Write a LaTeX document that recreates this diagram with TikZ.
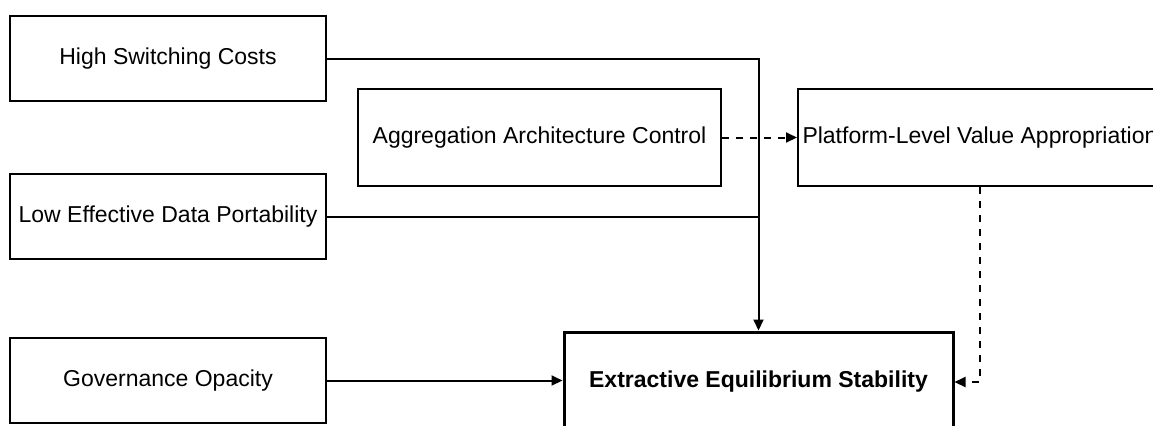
\documentclass[tikz,border=0pt]{standalone}
\usepackage{fontspec}
\setmainfont{Liberation Sans}
\usetikzlibrary{arrows.meta}
\begin{document}
\begin{tikzpicture}[x=0.5pt,y=-0.5pt,
  every node/.style={font=\fontsize{11.5}{14}\selectfont},
  box/.style={draw,line width=1pt,inner sep=0pt,minimum height=42.5pt},
  mainbox/.style={draw,line width=1.5pt,inner sep=0pt,minimum width=194.5pt,minimum height=50pt,font=\fontsize{11.5}{14}\selectfont\bfseries},
  link/.style={line width=1pt,-{Triangle[length=5.5pt,width=5pt]}},
  dlink/.style={link,dash pattern=on 3.5pt off 3.5pt}]
\useasboundingbox (0,0) rectangle (1153,425);
\node[box,minimum width=158pt] (hsc) at (168,58.5) {High Switching Costs};
\node[box,minimum width=158pt] (ldp) at (168,216.5) {Low Effective Data Portability};
\node[box,minimum width=158pt] (gov) at (168,380.5) {Governance Opacity};
\node[box,minimum width=181.5pt,minimum height=48.5pt] (agg) at (539.5,137.5) {Aggregation Architecture Control};
\node[box,minimum width=182pt,minimum height=48.5pt] (pva) at (980,137.5) {Platform-Level Value Appropriation};
\node[mainbox] (ees) at (758.5,382) {Extractive Equilibrium Stability};
% solid links
\draw[link] (hsc.east) -| (ees.north);
\draw[line width=1pt] (ldp.east) -- (ldp.east -| ees.north);
\draw[link] (gov.east) -- (ees.west |- gov.east);
% dashed links
\draw[dlink] (agg.east) -- (pva.west);
\draw[dlink] (pva.south) |- (ees.east);
\end{tikzpicture}
\end{document}
